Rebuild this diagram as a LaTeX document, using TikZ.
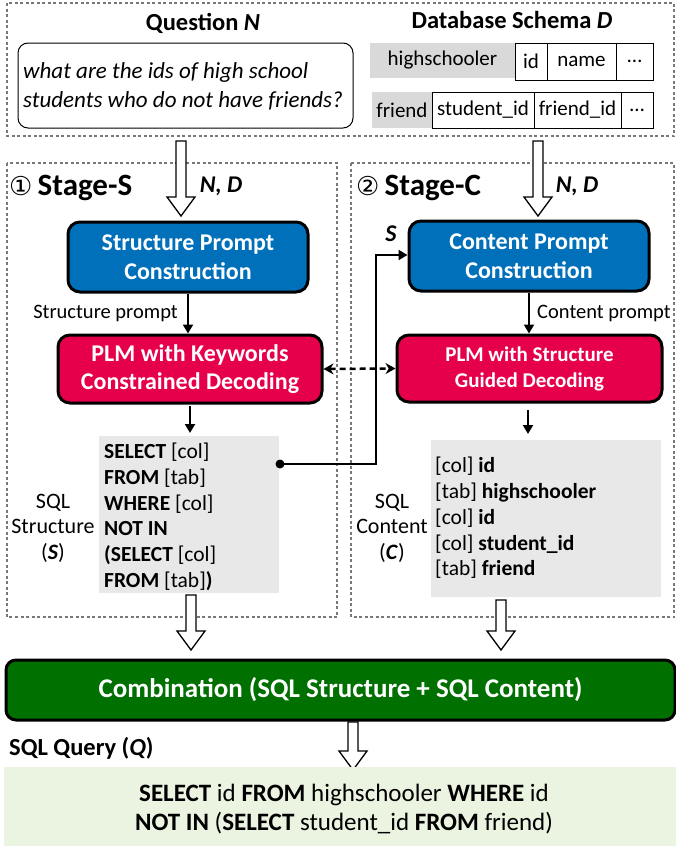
\documentclass[tikz,border=0pt]{standalone}
\usepackage{fontspec}
\setmainfont{Carlito}
\newfontfamily\symfont{DejaVu Sans}
\usetikzlibrary{arrows.meta,calc}
\definecolor{bluebox}{RGB}{0,112,186}
\definecolor{redbox}{RGB}{230,0,76}
\definecolor{greenbox}{RGB}{0,112,0}
\definecolor{grayfill}{RGB}{232,232,232}
\definecolor{schemagray}{RGB}{217,217,217}
\definecolor{lightgreen}{RGB}{235,243,225}
\definecolor{dashgray}{RGB}{120,120,120}
\newcommand\fsz[2]{\fontsize{#1}{#2}\selectfont}
\newcommand\hollowarrow[3]{%
  \draw[harrow] (#1-5,#2) -- (#1+5,#2) -- (#1+5,#3-19) -- (#1+14,#3-19) -- (#1,#3) -- (#1-14,#3-19) -- (#1-5,#3-19) -- cycle;}
\begin{document}
\begin{tikzpicture}[x=1pt,y=-1pt,
  dashedbox/.style={draw=dashgray, line width=1.2pt, dash pattern=on 3pt off 2.5pt},
  harrow/.style={draw=black, fill=white, line width=1.3pt, line join=miter},
  procbox/.style={draw=black, line width=3pt, rounded corners=12pt, text=white, align=center, inner sep=0pt},
  cell/.style={draw=black, line width=1pt, inner sep=0pt, font=\fsz{21}{24}},
  graycell/.style={fill=schemagray, inner sep=0pt, font=\fsz{21}{24}},
  conn/.style={draw=black, line width=2pt, -{Triangle[length=9pt,width=10pt]}},
  plain/.style={inner sep=0pt},
]
\useasboundingbox (0,0) rectangle (676,846);

% ---------- top region ----------
\draw[dashedbox] (7,3) rectangle (674,136);
\node[plain, font=\fsz{24.5}{28}\bfseries] (qtitle) at (203,23) {Question \textit{N}};
\node[draw=black, line width=1pt, rounded corners=10pt, minimum width=335pt, minimum height=85pt, inner sep=0pt] (qbox) at (185.5,85.5) {};
\node[plain, anchor=west, align=left, font=\fsz{23}{29}] (qtext) at (23,86) {\itshape what are the ids of high school\\\itshape students who do not have friends?};
\node[plain, font=\fsz{24.5}{28}\bfseries] (dtitle) at (512,20) {Database Schema \textit{D}};

\node[graycell, minimum width=145pt, minimum height=35pt] (hs) at (442.5,60.5) {highschooler};
\node[cell, minimum width=32pt, minimum height=37pt] (hsid) at (531,61.5) {id};
\node[cell, minimum width=69pt, minimum height=37pt] (hsname) at (581.5,61.5) {name};
\node[cell, minimum width=37pt, minimum height=37pt] (hsdots) at (634.5,61.5) {\dots};

\node[graycell, minimum width=60pt, minimum height=36pt] (fr) at (402,110) {friend};
\node[cell, minimum width=102pt, minimum height=36pt] (frsid) at (483,110) {student\_id};
\node[cell, minimum width=87pt, minimum height=36pt] (frfid) at (577.5,110) {friend\_id};
\node[cell, minimum width=32pt, minimum height=36pt] (frdots) at (637,110) {\dots};

% ---------- stage boxes ----------
\draw[dashedbox] (7,163) rectangle (337,617);
\draw[dashedbox] (351,163) rectangle (674,617);
\node[plain, anchor=west, font=\fsz{31}{34}] (stageS) at (9,188) {{\symfont\fontsize{26}{30}\selectfont ①}\,\bfseries Stage-S};
\node[plain, anchor=west, font=\fsz{31}{34}] (stageC) at (356,188) {{\symfont\fontsize{26}{30}\selectfont ②}\,\bfseries Stage-C};

\hollowarrow{181}{141}{216}
\hollowarrow{538}{141}{216}
\node[plain, font=\fsz{24}{28}\bfseries\itshape] (nd1) at (221,186) {N, D};
\node[plain, font=\fsz{24}{28}\bfseries\itshape] (nd2) at (577,186) {N, D};

% blue boxes
\node[procbox, fill=bluebox, minimum width=240pt, minimum height=70pt, font=\fsz{24}{29}\bfseries] (sp) at (188,257) {Structure Prompt\\Construction};
\node[procbox, fill=bluebox, minimum width=240pt, minimum height=70pt, font=\fsz{24}{29}\bfseries] (cp) at (529,256) {Content Prompt\\Construction};

% red boxes
\node[procbox, fill=redbox, minimum width=264pt, minimum height=68pt, font=\fsz{24}{28}\bfseries] (plmk) at (190,369) {PLM with Keywords\\Constrained Decoding};
\node[procbox, fill=redbox, minimum width=265pt, minimum height=67pt, font=\fsz{21}{26}\bfseries] (plms) at (529.5,368.5) {PLM with Structure\\Guided Decoding};

\draw[conn] (sp.south) -- (sp.south |- plmk.north);
\draw[conn] (cp.south) -- (cp.south |- plms.north);
\node[plain, anchor=east, font=\fsz{20.5}{24}] (splabel) at (178,313) {Structure prompt};
\node[plain, anchor=west, font=\fsz{20.5}{24}] (cplabel) at (537,313) {Content prompt};

\draw[draw=black, line width=2.5pt, dash pattern=on 6pt off 4pt, {Stealth[length=10pt,width=11pt]}-{Stealth[length=10pt,width=11pt]}] (plmk.east) -- (plms.west);

% gray boxes
\node[fill=grayfill, minimum width=180pt, minimum height=157pt, inner sep=0pt] (sbox) at (189,514.5) {};
\node[fill=grayfill, minimum width=230pt, minimum height=157pt, inner sep=0pt] (cbox) at (546,518.5) {};

\coordinate (k1) at (190,406);
\coordinate (k2) at (190,433);
\coordinate (s1) at (528,410);
\coordinate (s2) at (528,434);
\draw[conn] (k1) -- (k2);
\draw[conn] (s1) -- (s2);

\node[plain, anchor=north west, align=left, font=\fsz{21.5}{25.7}] (stext) at (104,443)
 {\textbf{SELECT} [col]\\\textbf{FROM} [tab]\\\textbf{WHERE} [col]\\\textbf{NOT IN}\\\textbf{(SELECT} [col]\\\textbf{FROM} [tab]\textbf{)}};
\node[plain, anchor=north west, align=left, font=\fsz{21.5}{25.8}] (ctext) at (435,457)
 {{[col]} \textbf{id}\\{[tab]} \textbf{highschooler}\\{[col]} \textbf{id}\\{[col]} \textbf{student\_id}\\{[tab]} \textbf{friend}};

\node[plain, align=center, font=\fsz{22}{25.5}] (slabel) at (53,528) {SQL\\Structure\\(\textbf{\textit{S}})};
\node[plain, align=center, font=\fsz{22}{25.5}] (clabel) at (392,528) {SQL\\Content\\(\textbf{\textit{C}})};

% S connector
\coordinate (dot) at (280,464);
\coordinate (bend1) at (376,464);
\coordinate (bend2) at (376,255);
\fill (dot) circle (4.5pt);
\draw[conn, line width=2.5pt] (dot) -- (bend1) -- (bend2) -- (bend2 -| cp.west);
\node[plain, font=\fsz{24}{28}\bfseries\itshape] (slab) at (391,234) {S};

% bottom arrows
\hollowarrow{191}{595}{650}
\hollowarrow{501}{600}{650}

% combination
\node[procbox, fill=greenbox, rounded corners=10pt, minimum width=669pt, minimum height=60pt, font=\fsz{27}{30}\bfseries] (comb) at (340.5,690) {Combination (SQL Structure + SQL Content)};
\hollowarrow{353}{722}{770}
\node[plain, anchor=west, font=\fsz{24.5}{28}\bfseries] (qlabel) at (9,748) {SQL Query (\textit{Q})};

\node[fill=lightgreen, minimum width=672pt, minimum height=79pt, inner sep=0pt] (final) at (340,806.5) {};
\node[plain, align=center, font=\fsz{25}{29}] (finaltext) at (344,809)
 {\textbf{SELECT} id \textbf{FROM} highschooler \textbf{WHERE} id\\\textbf{NOT IN} (\textbf{SELECT} student\_id \textbf{FROM} friend)};
\end{tikzpicture}
\end{document}
